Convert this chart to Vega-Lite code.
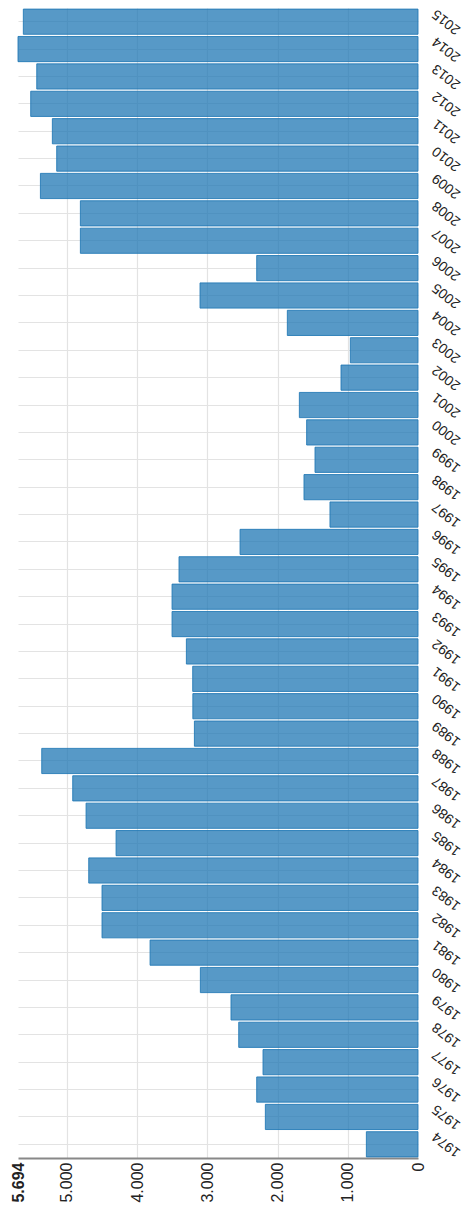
{
  "$schema": "https://vega.github.io/schema/vega-lite/v6.json",
  "width": 400,
  "height": 1150,
  "autosize": {"type": "none"},
  "padding": {"left": 18, "top": 8, "right": 46, "bottom": 56},
  "data": {
    "values": [
      {"year": 1974, "value": 735},
      {"year": 1975, "value": 2173},
      {"year": 1976, "value": 2296},
      {"year": 1977, "value": 2206},
      {"year": 1978, "value": 2552},
      {"year": 1979, "value": 2662},
      {"year": 1980, "value": 3098},
      {"year": 1981, "value": 3814},
      {"year": 1982, "value": 4498},
      {"year": 1983, "value": 4498},
      {"year": 1984, "value": 4687},
      {"year": 1985, "value": 4298},
      {"year": 1986, "value": 4725},
      {"year": 1987, "value": 4915},
      {"year": 1988, "value": 5356},
      {"year": 1989, "value": 3183},
      {"year": 1990, "value": 3205},
      {"year": 1991, "value": 3207},
      {"year": 1992, "value": 3297},
      {"year": 1993, "value": 3501},
      {"year": 1994, "value": 3501},
      {"year": 1995, "value": 3402},
      {"year": 1996, "value": 2533},
      {"year": 1997, "value": 1253},
      {"year": 1998, "value": 1623},
      {"year": 1999, "value": 1466},
      {"year": 2000, "value": 1585},
      {"year": 2001, "value": 1689},
      {"year": 2002, "value": 1096},
      {"year": 2003, "value": 963},
      {"year": 2004, "value": 1860},
      {"year": 2005, "value": 3103},
      {"year": 2006, "value": 2296},
      {"year": 2007, "value": 4806},
      {"year": 2008, "value": 4806},
      {"year": 2009, "value": 5375},
      {"year": 2010, "value": 5143},
      {"year": 2011, "value": 5205},
      {"year": 2012, "value": 5513},
      {"year": 2013, "value": 5427},
      {"year": 2014, "value": 5694},
      {"year": 2015, "value": 5618}
    ]
  },
  "mark": {"type": "bar", "fill": "#1f77b4", "fillOpacity": 0.75, "stroke": "#1f77b4", "strokeWidth": 1, "strokeOpacity": 0.85},
  "encoding": {
    "y": {
      "field": "year",
      "type": "ordinal",
      "sort": "descending",
      "scale": {"paddingInner": 0.08, "paddingOuter": 0.04},
      "axis": {
        "orient": "right",
        "title": null,
        "domain": false,
        "ticks": false,
        "grid": true,
        "bandPosition": 0.5,
        "gridColor": "#e3e3e3",
        "gridWidth": 1.2,
        "labelAngle": -142,
        "labelAlign": "center",
        "labelBaseline": "middle",
        "labelPadding": 28,
        "labelFontSize": 14,
        "labelFont": "Liberation Sans",
        "labelColor": "#222",
        "labelOverlap": false,
        "labelBound": false
      }
    },
    "x": {
      "field": "value",
      "type": "quantitative",
      "scale": {"domain": [0, 5694], "reverse": true, "nice": false, "zero": true},
      "axis": {
        "title": null,
        "values": [0, 1000, 2000, 3000, 4000, 5000, 5694],
        "labelExpr": "replace(format(datum.value, ','), ',', '.')",
        "labelAngle": -90,
        "labelAlign": "right",
        "labelBaseline": "middle",
        "labelPadding": 4,
        "labelFontSize": 16,
        "labelFont": "Liberation Sans",
        "labelColor": "#222",
        "labelFlush": false,
        "labelOverlap": false,
        "labelBound": false,
        "labelFontWeight": {"condition": {"test": "datum.value == 5694", "value": "bold"}, "value": "normal"},
        "ticks": false,
        "domainColor": "#888",
        "domainWidth": 2,
        "grid": true,
        "gridColor": "#e3e3e3",
        "gridWidth": 1.2,
        "gridOpacity": {"condition": {"test": "datum.value == 0 || datum.value == 5694", "value": 0}, "value": 1}
      }
    }
  },
  "config": {"view": {"stroke": null}}
}
